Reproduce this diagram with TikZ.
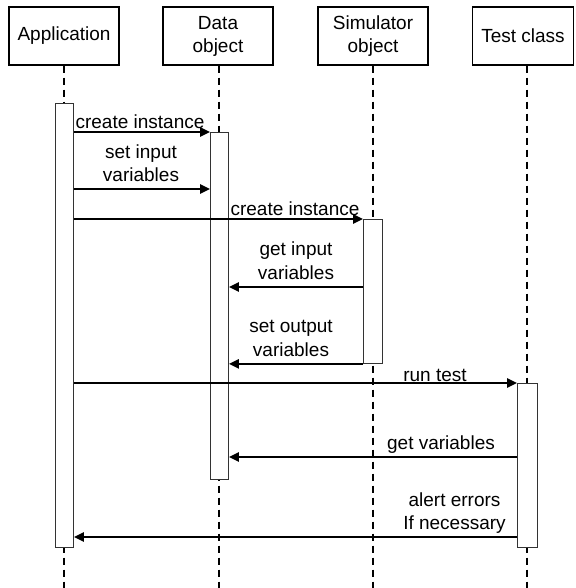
\documentclass[tikz,border=0pt]{standalone}
\usepackage{fontspec}
\setmainfont{Liberation Sans}
\usetikzlibrary{arrows.meta}
\begin{document}
\begin{tikzpicture}[x=1pt,y=-1pt,
  every node/.style={font=\fontsize{19}{23}\selectfont},
  header/.style={draw, line width=1.3pt, rectangle, minimum width=110pt,
    minimum height=58pt, align=center, inner sep=0pt},
  lifeline/.style={line width=1.6pt, dash pattern=on 7pt off 5pt},
  actbar/.style={draw=black!80, fill=white, line width=0.9pt, rectangle,
    inner sep=0pt, anchor=north west},
  msg/.style={line width=2.4pt, -{Triangle[length=10pt,width=9pt]}},
  lbl/.style={anchor=base, inner sep=0pt}
]
\useasboundingbox (0,0) rectangle (575,588);

% object headers
\node[header] (app) at (64,36) {Application};
\node[header] (data) at (218,36) {Data\\object};
\node[header] (sim) at (373,36) {Simulator\\object};
\node[header, minimum width=101pt] (test) at (523,36) {Test class};

% lifelines
\coordinate (append) at (64,588);
\coordinate (dataend) at (219,588);
\coordinate (simend) at (373,588);
\coordinate (testend) at (527,588);
\draw[lifeline] (app.south) -- (append);
\draw[lifeline] (data.south -| dataend) -- (dataend);
\draw[lifeline] (sim.south) -- (simend);
\draw[lifeline] (test.south -| testend) -- (testend);

% activation bars
\node[actbar, minimum width=18pt, minimum height=444pt] (appbar) at (55,103) {};
\node[actbar, minimum width=18pt, minimum height=347pt] (databar) at (210,132) {};
\node[actbar, minimum width=19pt, minimum height=144pt] (simbar) at (363,219) {};
\node[actbar, minimum width=20pt, minimum height=164pt] (testbar) at (517,383) {};

% messages
\draw[msg] (appbar.east |- 0,132) -- (databar.west |- 0,132);
\node[lbl] (l1) at (140,129) {create instance};

\draw[msg] (appbar.east |- 0,189) -- (databar.west |- 0,189);
\node[lbl] (l2a) at (141,158) {set input};
\node[lbl] (l2b) at (141,182) {variables};

\draw[msg] (appbar.east |- 0,219) -- (simbar.north west);
\node[lbl] (l3) at (295,215) {create instance};

\draw[msg] (simbar.west |- 0,287) -- (databar.east |- 0,287);
\node[lbl] (l4a) at (296,255) {get input};
\node[lbl] (l4b) at (296,279) {variables};

\draw[msg] (simbar.south west) -- (databar.east |- simbar.south);
\node[lbl] (l5a) at (291,332) {set output};
\node[lbl] (l5b) at (291,356) {variables};

\draw[msg] (appbar.east |- testbar.north) -- (testbar.north west);
\node[lbl] (l6) at (435,381) {run test};

\draw[msg] (testbar.west |- 0,457) -- (databar.east |- 0,457);
\node[lbl] (l7) at (441,449) {get variables};

\draw[msg] (testbar.west |- 0,537) -- (appbar.east |- 0,537);
\node[lbl] (l8a) at (454.5,506) {alert errors};
\node[lbl] (l8b) at (454.5,529) {If necessary};
\end{tikzpicture}
\end{document}
